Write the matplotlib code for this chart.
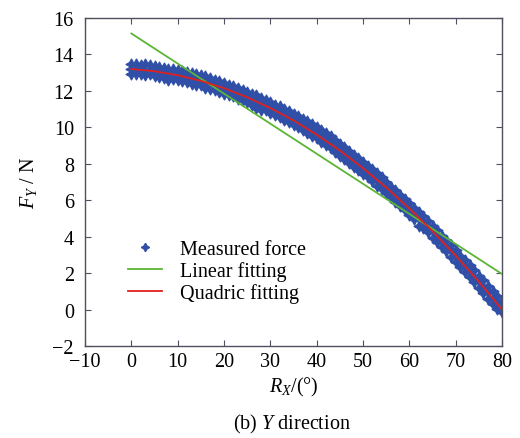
import numpy as np
import matplotlib
matplotlib.use("Agg")
from matplotlib import pyplot as plt
from matplotlib.lines import Line2D

plt.rcParams['font.family'] = ['Liberation Serif', 'DejaVu Serif']
plt.rcParams['mathtext.fontset'] = 'custom'
plt.rcParams['mathtext.rm'] = 'Liberation Serif'
plt.rcParams['mathtext.it'] = 'Liberation Serif:italic'

ANGLE = np.arange(0, 81)
FORCE_HI = [13.45, 13.50, 13.40, 13.45, 13.40, 13.35, 13.30, 13.25, 13.20, 13.20,
            13.15, 13.10, 13.05, 13.00, 12.95, 12.85, 12.80, 12.70, 12.60, 12.55,
            12.45, 12.35, 12.25, 12.15, 12.05, 11.95, 11.85, 11.75, 11.60, 11.50,
            11.40, 11.25, 11.15, 11.00, 10.90, 10.75, 10.60, 10.45, 10.35, 10.20,
            10.00, 9.85, 9.70, 9.50, 9.30, 9.10, 8.90, 8.70, 8.50, 8.30,
            8.10, 7.90, 7.70, 7.50, 7.25, 7.00, 6.75, 6.55, 6.30, 6.05,
            5.85, 5.60, 5.35, 5.15, 4.85, 4.60, 4.35, 4.05, 3.80, 3.55,
            3.25, 2.95, 2.70, 2.45, 2.15, 1.85, 1.60, 1.30, 1.00, 0.75,
            0.45]
FORCE_MID = [13.20, 13.15, 13.20, 13.10, 13.15, 13.05, 13.05, 12.95, 12.95, 12.90,
             12.85, 12.80, 12.75, 12.70, 12.60, 12.55, 12.50, 12.40, 12.30, 12.25,
             12.15, 12.05, 11.95, 11.85, 11.75, 11.65, 11.55, 11.40, 11.30, 11.20,
             11.05, 10.95, 10.80, 10.70, 10.55, 10.40, 10.25, 10.10, 9.95, 9.80,
             9.65, 9.45, 9.30, 9.10, 8.95, 8.75, 8.55, 8.35, 8.15, 7.95,
             7.75, 7.55, 7.35, 7.15, 6.90, 6.70, 6.45, 6.25, 6.00, 5.80,
             5.55, 5.30, 5.05, 4.80, 4.55, 4.30, 4.05, 3.75, 3.50, 3.25,
             2.95, 2.70, 2.40, 2.10, 1.80, 1.55, 1.25, 0.95, 0.65, 0.35,
             0.10]
FORCE_LO = [12.95, 12.90, 12.95, 12.85, 12.90, 12.80, 12.75, 12.70, 12.60, 12.65,
            12.60, 12.55, 12.50, 12.40, 12.35, 12.30, 12.15, 12.10, 12.05, 11.95,
            11.85, 11.80, 11.70, 11.55, 11.50, 11.40, 11.25, 11.05, 10.95, 10.95,
            10.80, 10.70, 10.55, 10.40, 10.30, 10.15, 10.00, 9.85, 9.70, 9.55,
            9.40, 9.20, 9.05, 8.85, 8.65, 8.45, 8.25, 8.05, 7.85, 7.65,
            7.45, 7.25, 7.05, 6.80, 6.60, 6.40, 6.15, 5.90, 5.70, 5.45,
            5.20, 4.95, 4.60, 4.45, 4.25, 3.95, 3.70, 3.45, 3.20, 2.90,
            2.60, 2.35, 2.05, 1.80, 1.50, 1.20, 0.90, 0.60, 0.30, 0.05,
            -0.15]

# fitted curves
LIN_X = [0, 80]
LIN_Y = [15.15, 1.95]
QUAD_X = [0, 5, 10, 15, 20, 25, 30, 35, 40, 45, 50, 55, 60, 65, 70, 75, 80]
QUAD_Y = [13.20, 13.08, 12.86, 12.55, 12.15, 11.65, 11.06, 10.38, 9.60,
          8.73, 7.76, 6.70, 5.55, 4.30, 2.96, 1.53, 0.00]

BLUE = '#3050a8'
GREEN = '#5cb534'
RED = '#e0201c'
STAR = (4, 1, 0)
FS = 14.5

fig = plt.figure(figsize=(5.2, 4.39), dpi=100)
ax = fig.add_axes([0.1635, 0.2096, 0.8019, 0.7471])

for band in (FORCE_HI, FORCE_MID, FORCE_LO):
    ax.scatter(ANGLE, band, s=60, marker=STAR, color=BLUE, linewidths=1.0, zorder=2)
ax.plot(LIN_X, LIN_Y, color=GREEN, lw=1.3, zorder=3)
ax.plot(QUAD_X, QUAD_Y, color=RED, lw=1.3, zorder=4)

ax.set_xlim(-10, 80)
ax.set_ylim(-2, 16)
ax.set_xticks(np.arange(-10, 81, 10))
ax.set_yticks(np.arange(-2, 17, 2))
ax.set_xticklabels(['\u221210'] + [str(v) for v in range(0, 81, 10)])
ax.set_yticklabels(['\u22122'] + [str(v) for v in range(0, 17, 2)])
ax.tick_params(direction='in', top=True, right=True, length=4, width=0.8,
               labelsize=FS, color='#505060')
ax.tick_params(axis='x', pad=4)
ax.tick_params(axis='y', pad=8)
for sp in ax.spines.values():
    sp.set_color('#505060')
    sp.set_linewidth(1.0)

ax.set_xlabel('$R_X$/(\u00b0)', fontsize=FS, labelpad=3)
ax.set_ylabel('$F_Y$ / N', fontsize=FS, labelpad=10)

handles = [Line2D([], [], ls='none', marker=STAR, ms=6, color=BLUE),
           Line2D([], [], color=GREEN, lw=1.3),
           Line2D([], [], color=RED, lw=1.3)]
ax.legend(handles, ['Measured force', 'Linear fitting', 'Quadric fitting'],
          loc='upper left', bbox_to_anchor=(0.078, 0.354), frameon=False,
          fontsize=FS, borderpad=0, labelspacing=0.1, handlelength=1.7,
          handletextpad=0.9)

fig.text(0.562, 0.034, '(b) $Y$ direction', ha='center', va='center', fontsize=FS)

fig.savefig('out.png', dpi=100)
